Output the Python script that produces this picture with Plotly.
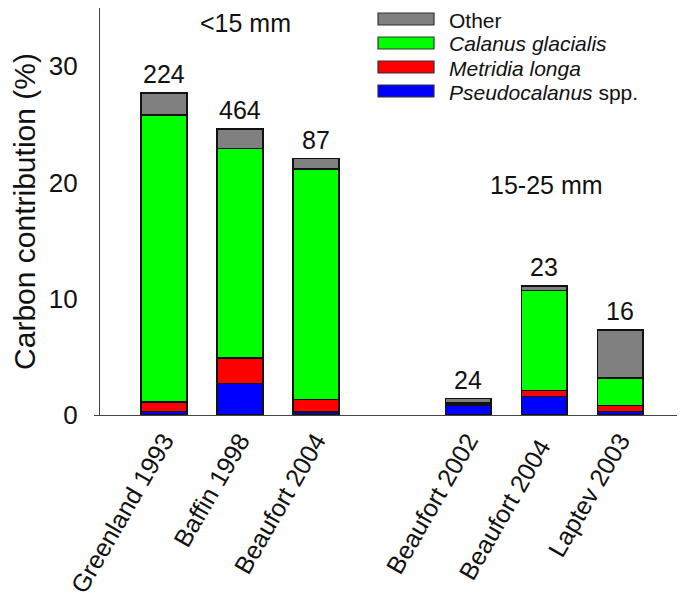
import plotly.graph_objects as go

categories = ["Greenland 1993", "Baffin 1998", "Beaufort 2004", " ",
              "Beaufort 2002", "Beaufort 2004 ", "Laptev 2003"]
bar_cats = ["Greenland 1993", "Baffin 1998", "Beaufort 2004",
            "Beaufort 2002", "Beaufort 2004 ", "Laptev 2003"]
pseudocalanus = [0.3, 2.7, 0.25, 0.85, 1.6, 0.3]
metridia = [0.8, 2.2, 1.1, 0.05, 0.5, 0.5]
calanus = [24.7, 18.0, 19.8, 0.15, 8.6, 2.4]
other = [1.9, 1.7, 0.9, 0.35, 0.4, 4.1]
counts = ["224", "464", "87", "24", "23", "16"]
size_labels = ["<15 mm", "15-25 mm"]
y_ticks = [0, 10, 20, 30]

series = [
    ("<i>Pseudocalanus</i> spp.", pseudocalanus, "#0000FF"),
    ("<i>Metridia longa</i>", metridia, "#FF0000"),
    ("<i>Calanus glacialis</i>", calanus, "#00FF00"),
    ("Other", other, "#808080"),
]

FONT = "Liberation Sans, Arial, sans-serif"
INK = "#111111"
AX = "#444444"

# plot area in screen pixels (page has an 8px body offset)
PX0, PX1, PY0, PY1 = 94, 684, 8, 415


def px(x):
    return (x - PX0) / (PX1 - PX0)


def py(y):
    return (PY1 - y) / (PY1 - PY0)


fig = go.Figure()
for name, vals, col in series:
    fig.add_trace(go.Bar(x=bar_cats, y=vals, name=name, width=0.6,
                         marker=dict(color=col, line=dict(color=INK, width=1.5)),
                         showlegend=False))

totals = [sum(v) for v in zip(pseudocalanus, metridia, calanus, other)]
for c, t, lab in zip(bar_cats, totals, counts):
    fig.add_annotation(x=c, y=t, text=lab, showarrow=False, yanchor="middle",
                       xanchor="center", yshift=19,
                       font=dict(size=25, color=INK, family=FONT))

fig.add_annotation(xref="paper", yref="paper", x=px(245), y=py(23), text=size_labels[0],
                   xanchor="center", yanchor="middle", showarrow=False,
                   font=dict(size=25, color=INK, family=FONT))
fig.add_annotation(xref="paper", yref="paper", x=px(546), y=py(185), text=size_labels[1],
                   xanchor="center", yanchor="middle", showarrow=False,
                   font=dict(size=25, color=INK, family=FONT))

# legend drawn with wide swatches like the original
leg_rows = list(reversed(series))
for i, (name, vals, col) in enumerate(leg_rows):
    yc = 19 + 24 * i
    fig.add_shape(type="rect", xref="paper", yref="paper",
                  x0=px(378), x1=px(434), y0=py(yc + 6), y1=py(yc - 6),
                  fillcolor=col, line=dict(color="#333333", width=1.2))
    fig.add_annotation(xref="paper", yref="paper", x=px(447), y=py(yc + 1),
                       xanchor="left", yanchor="middle", text=name, showarrow=False,
                       font=dict(size=21, color=INK, family=FONT))

fig.update_layout(
    barmode="stack",
    width=677, height=595,
    margin=dict(l=86, r=1, t=0, b=188),
    plot_bgcolor="white", paper_bgcolor="white",
    font=dict(family=FONT, color=INK),
    xaxis=dict(categoryorder="array", categoryarray=categories,
               range=[-0.92, 6.84], showline=True, linecolor=AX, linewidth=1.2,
               ticks="", tickangle=-60, tickfont=dict(size=25, color=INK),
               showgrid=False),
    # main y axis: labels pushed out by long invisible ticks
    yaxis=dict(range=[0, 35], tickvals=y_ticks, showline=True,
               linecolor=AX, linewidth=1.2, ticks="outside", ticklen=16,
               tickcolor="rgba(255,255,255,0)", tickfont=dict(size=26, color=INK),
               showgrid=False, zeroline=False, anchor="free", position=px(99),
               title=dict(text="Carbon contribution (%)", font=dict(size=30, color=INK),
                          standoff=9)),
    # overlay axis that only draws the short visible tick marks
    yaxis2=dict(range=[0, 35], tickvals=y_ticks, overlaying="y", anchor="free",
                position=px(99), side="left", showline=False, ticks="outside",
                ticklen=5, tickcolor=AX, tickwidth=1.2, showticklabels=False,
                showgrid=False, zeroline=False),
)

fig.write_html("out.html")
